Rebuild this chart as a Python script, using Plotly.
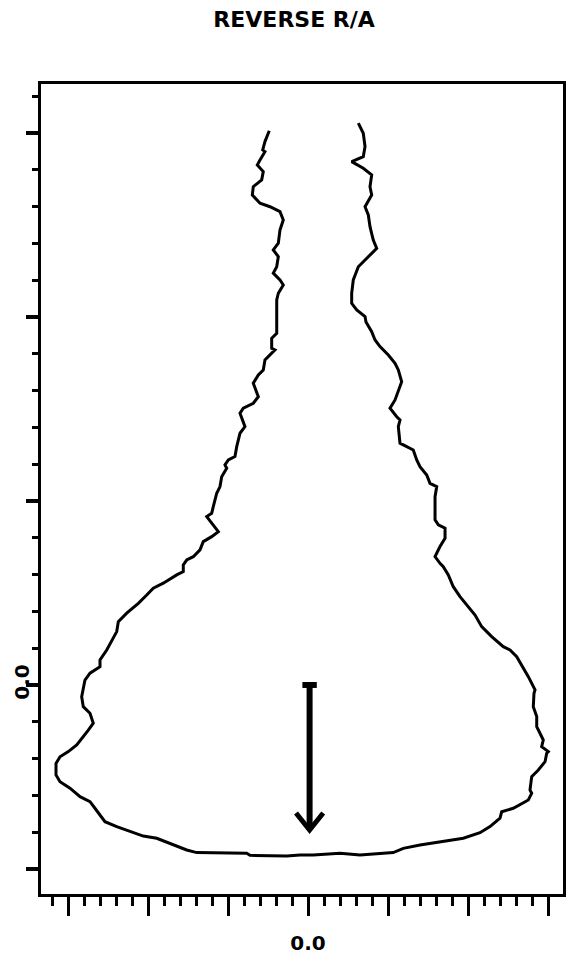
import plotly.graph_objects as go

# Traced boundary: starts at the top of the left branch, runs down and round
# the bottom, then back up the right branch.
curve_x = [
    -0.484, -0.538, -0.566, -0.538, -0.600, -0.634, -0.559, -0.579, -0.684, -0.696,
    -0.600, -0.475, -0.350, -0.309, -0.350, -0.371, -0.434, -0.371, -0.391, -0.434,
    -0.350, -0.309, -0.371, -0.391, -0.391, -0.454, -0.454, -0.413, -0.538, -0.559,
    -0.621, -0.684, -0.621, -0.684, -0.809, -0.850, -0.788, -0.850, -0.891, -0.913,
    -0.996, -1.038, -1.016, -1.079, -1.100, -1.141, -1.184, -1.204, -1.266, -1.204,
    -1.121, -1.204, -1.309, -1.350, -1.434, -1.516, -1.559, -1.559, -1.641, -1.809,
    -1.934, -2.016, -2.121, -2.266, -2.371, -2.391, -2.454, -2.516, -2.600, -2.600,
    -2.725, -2.788, -2.829, -2.809, -2.725, -2.684, -2.746, -2.809, -2.891, -2.996,
    -3.100, -3.150, -3.150, -3.100, -2.975, -2.850, -2.725, -2.663, -2.538, -2.391,
    -2.225, -2.059, -1.891, -1.725, -1.516, -1.391, -1.225, -0.766, -0.725, -0.266,
    -0.100, 0.066, 0.400, 0.650, 1.066, 1.191, 1.400, 1.650, 1.941, 2.150,
    2.275, 2.400, 2.421, 2.566, 2.754, 2.796, 2.775, 2.796, 2.879, 2.963,
    2.984, 3.004, 2.921, 2.941, 2.900, 2.859, 2.859, 2.816, 2.825, 2.838,
    2.754, 2.650, 2.609, 2.525, 2.441, 2.296, 2.171, 2.088, 1.963, 1.900,
    1.816, 1.754, 1.691, 1.650, 1.588, 1.650, 1.713, 1.713, 1.629, 1.588,
    1.588, 1.609, 1.525, 1.484, 1.400, 1.359, 1.316, 1.234, 1.150, 1.129,
    1.150, 1.109, 1.025, 1.088, 1.129, 1.171, 1.129, 1.088, 1.004, 0.900,
    0.838, 0.796, 0.725, 0.713, 0.609, 0.546, 0.546, 0.566, 0.629, 0.754,
    0.859, 0.816, 0.775, 0.754, 0.713, 0.796, 0.775, 0.796, 0.691, 0.546,
    0.691, 0.713, 0.691, 0.629,
]
curve_y = [
    3.012, 2.953, 2.908, 2.898, 2.853, 2.826, 2.790, 2.745, 2.708, 2.663,
    2.618, 2.599, 2.572, 2.527, 2.473, 2.401, 2.364, 2.328, 2.273, 2.238,
    2.201, 2.174, 2.129, 2.092, 1.911, 1.884, 1.830, 1.821, 1.766, 1.712,
    1.685, 1.640, 1.567, 1.531, 1.504, 1.477, 1.404, 1.368, 1.295, 1.241,
    1.223, 1.196, 1.178, 1.132, 1.078, 1.042, 0.969, 0.933, 0.915, 0.879,
    0.833, 0.806, 0.779, 0.734, 0.697, 0.679, 0.652, 0.616, 0.598, 0.553,
    0.526, 0.489, 0.444, 0.390, 0.344, 0.290, 0.235, 0.190, 0.136, 0.099,
    0.064, 0.027, -0.064, -0.118, -0.154, -0.208, -0.245, -0.281, -0.326, -0.362,
    -0.390, -0.426, -0.489, -0.526, -0.561, -0.607, -0.634, -0.670, -0.743, -0.770,
    -0.797, -0.821, -0.833, -0.860, -0.897, -0.911, -0.911, -0.915, -0.926, -0.929,
    -0.924, -0.924, -0.915, -0.924, -0.911, -0.888, -0.870, -0.852, -0.833, -0.803,
    -0.770, -0.724, -0.689, -0.670, -0.625, -0.589, -0.571, -0.498, -0.462, -0.417,
    -0.371, -0.362, -0.335, -0.299, -0.263, -0.227, -0.172, -0.118, -0.045, -0.027,
    0.045, 0.118, 0.154, 0.190, 0.208, 0.263, 0.317, 0.380, 0.444, 0.480,
    0.534, 0.598, 0.643, 0.661, 0.697, 0.752, 0.797, 0.852, 0.870, 0.897,
    1.023, 1.078, 1.096, 1.141, 1.186, 1.223, 1.277, 1.295, 1.314, 1.404,
    1.440, 1.458, 1.504, 1.549, 1.603, 1.648, 1.712, 1.748, 1.793, 1.839,
    1.875, 1.920, 1.973, 2.002, 2.038, 2.074, 2.129, 2.201, 2.273, 2.328,
    2.373, 2.418, 2.491, 2.554, 2.599, 2.663, 2.708, 2.772, 2.808, 2.844,
    2.871, 2.926, 2.998, 3.053,
]

# Downward arrow: shaft with a flat cap at the top, open V head at the bottom
arrow_x = 0.02
arrow_top = 0.0
arrow_tip = -0.788
arrow_head_y = -0.696
arrow_head_half = 0.17
arrow_cap_half = 0.09

# Axis ticks
x_major = [-3, -2, -1, 0, 1, 2, 3]
x_labels = ["", "", "", "0.0", "", "", ""]
y_major = [-1, 0, 1, 2, 3]
y_labels = ["", "0.0", "", "", ""]
x_range = [-3.3375, 3.1875]
y_range = [-1.136, 3.266]

title_text = "REVERSE R/A"

LABEL_FONT = "DejaVu Sans, sans-serif"
INK = "#000000"

fig = go.Figure()

fig.add_trace(go.Scatter(
    x=curve_x, y=curve_y, mode="lines",
    line=dict(color=INK, width=3),
    hoverinfo="skip", showlegend=False,
))

# shaft + cap
fig.add_trace(go.Scatter(
    x=[arrow_x - arrow_cap_half, arrow_x + arrow_cap_half, None, arrow_x, arrow_x],
    y=[arrow_top, arrow_top, None, arrow_top, arrow_tip],
    mode="lines", line=dict(color=INK, width=6),
    hoverinfo="skip", showlegend=False,
))
# head
fig.add_trace(go.Scatter(
    x=[arrow_x - arrow_head_half, arrow_x, arrow_x + arrow_head_half],
    y=[arrow_head_y, arrow_tip, arrow_head_y],
    mode="lines", line=dict(color=INK, width=5),
    hoverinfo="skip", showlegend=False,
))

fig.update_layout(
    width=570, height=956,
    margin=dict(l=41, r=7, t=84, b=62),
    paper_bgcolor="white", plot_bgcolor="white",
    title=dict(
        text=title_text, x=0.516, xref="container", xanchor="center",
        y=0.980, yref="container", yanchor="middle",
        font=dict(family=LABEL_FONT, size=22, color=INK, weight="bold"),
    ),
)

fig.update_xaxes(
    range=x_range, showgrid=False, zeroline=False, automargin=False,
    showline=True, linecolor=INK, linewidth=3, mirror=True,
    tickmode="array", tickvals=x_major, ticktext=x_labels,
    ticks="outside", ticklen=19, tickwidth=3, tickcolor=INK,
    ticklabelstandoff=10,
    tickfont=dict(family=LABEL_FONT, size=20, color=INK, weight="bold"),
    minor=dict(tickmode="linear", tick0=0, dtick=0.2, ticks="outside",
               ticklen=9, tickwidth=3, tickcolor=INK, showgrid=False),
)

fig.update_yaxes(
    range=y_range, showgrid=False, zeroline=False, automargin=False,
    showline=True, linecolor=INK, linewidth=3, mirror=True,
    tickmode="array", tickvals=y_major, ticktext=y_labels,
    ticks="outside", ticklen=12, tickwidth=4, tickcolor=INK,
    tickangle=-90, ticklabelstandoff=-11,
    tickfont=dict(family=LABEL_FONT, size=20, color=INK, weight="bold"),
    minor=dict(tickmode="linear", tick0=0, dtick=0.2, ticks="outside",
               ticklen=6, tickwidth=3, tickcolor=INK, showgrid=False),
)

fig.write_html("out.html")
